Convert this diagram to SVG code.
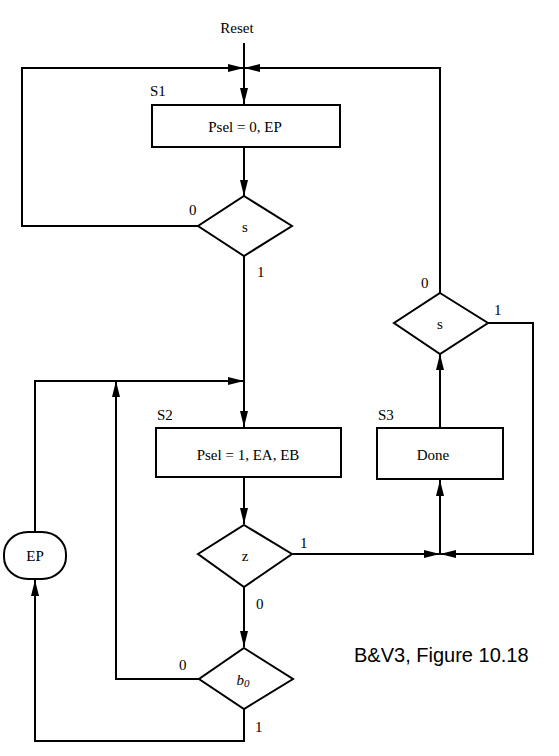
<svg xmlns="http://www.w3.org/2000/svg" width="559" height="756" viewBox="0 0 559 756">
<style>
.t{font-family:'Liberation Serif','DejaVu Serif','Times New Roman',serif;font-size:15px;fill:#000}
.c{text-anchor:middle}
.box{fill:#fff;stroke:#000;stroke-width:2}
.ln{fill:none;stroke:#000;stroke-width:2}
.cap{font-family:'Liberation Sans',Arial,sans-serif;font-size:20px;fill:#000}
</style>
<defs>
<marker id="ah" viewBox="0 0 16 8" refX="16" refY="4" markerWidth="16" markerHeight="8" markerUnits="userSpaceOnUse" orient="auto">
<path d="M0,0 L16,4 L0,8 z" fill="#000"/>
</marker>
</defs>
<rect width="559" height="756" fill="#fff"/>
<g id="connectors">
<path class="ln" d="M244,43 V104" marker-end="url(#ah)"/>
<path class="ln" d="M198,226 H22 V68 H244" marker-end="url(#ah)"/>
<path class="ln" d="M440,293 V68 H244" marker-end="url(#ah)"/>
<path class="ln" d="M244,147 V196" marker-end="url(#ah)"/>
<path class="ln" d="M244,256 V427" marker-end="url(#ah)"/>
<path class="ln" d="M35,532 V381 H244" marker-end="url(#ah)"/>
<path class="ln" d="M199,679 H116 V381" marker-end="url(#ah)"/>
<path class="ln" d="M244,477 V524" marker-end="url(#ah)"/>
<path class="ln" d="M244,587 V647" marker-end="url(#ah)"/>
<path class="ln" d="M244,709 V741 H35 V580" marker-end="url(#ah)"/>
<path class="ln" d="M292,554 H440" marker-end="url(#ah)"/>
<path class="ln" d="M488,323 H533 V554 H440" marker-end="url(#ah)"/>
<path class="ln" d="M440,554 V480" marker-end="url(#ah)"/>
<path class="ln" d="M440,428 V354" marker-end="url(#ah)"/>
<text class="t c" x="237" y="33">Reset</text>
<text class="t" x="189" y="215">0</text>
<text class="t" x="257" y="277">1</text>
<text class="t" x="421" y="288">0</text>
<text class="t" x="494" y="315">1</text>
<text class="t" x="300" y="548">1</text>
<text class="t" x="256" y="609">0</text>
<text class="t" x="179" y="670">0</text>
<text class="t" x="255" y="732">1</text>
</g>
<g id="S1">
<text class="t" x="150" y="96">S1</text>
<rect class="box" x="152" y="105" width="188" height="42"/>
<text class="t c" x="245" y="132">Psel = 0, EP</text>
</g>
<g id="dec_s1">
<polygon class="box" points="244,196 292,226 244,256 198,226"/>
<text class="t c" x="245" y="232">s</text>
</g>
<g id="S2">
<text class="t" x="157" y="420">S2</text>
<rect class="box" x="156" y="428" width="185" height="49"/>
<text class="t c" x="248" y="460">Psel = 1, EA, EB</text>
</g>
<g id="dec_z">
<polygon class="box" points="244,525 292,554 244,587 198,554"/>
<text class="t c" x="245" y="561">z</text>
</g>
<g id="dec_b0">
<polygon class="box" points="244,648 293,679 244,709 199,679"/>
<text class="t c" x="243" y="685"><tspan font-style="italic">b</tspan><tspan font-style="italic" font-size="11" dy="2">0</tspan></text>
</g>
<g id="EP">
<rect class="box" x="4" y="532" width="62" height="47" rx="24" ry="22"/>
<text class="t c" x="35" y="561">EP</text>
</g>
<g id="S3">
<text class="t" x="378" y="420">S3</text>
<rect class="box" x="377" y="428" width="126" height="51"/>
<text class="t c" x="433" y="460">Done</text>
</g>
<g id="dec_s3">
<polygon class="box" points="440,293 488,323 440,354 394,323"/>
<text class="t c" x="440" y="329">s</text>
</g>
<text class="cap" x="354" y="662">B&amp;V3, Figure 10.18</text>
</svg>
